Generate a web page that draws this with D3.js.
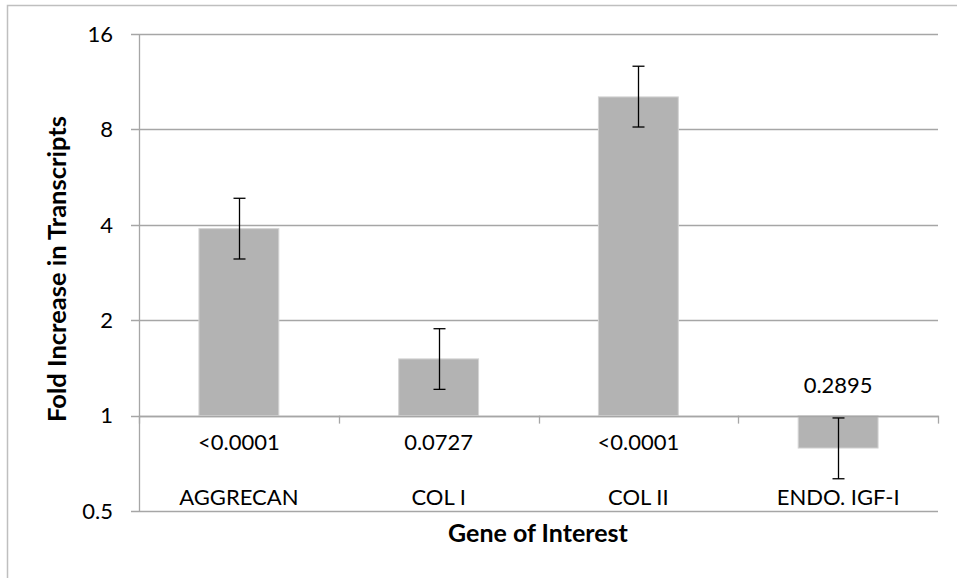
<!DOCTYPE html>
<html lang="en">
<head>
  <meta charset="UTF-8" />
  <title>Fold Increase in Transcripts</title>
  <script src="https://d3js.org/d3.v7.min.js"></script>
  <style>
    body { margin: 0; background: #fff; }
    svg { display: block; font-family: Lato, "Open Sans", sans-serif; }
  </style>
</head>
<body>
  <div id="chart"></div>
  <script>
    const genes = ["AGGRECAN", "COL I", "COL II", "ENDO. IGF-I"];
    const fold = [3.89, 1.51, 10.13, 0.79];
    const errLow = [3.12, 1.21, 8.14, 0.632];
    const errHigh = [4.85, 1.88, 12.66, 0.983];
    const pValues = ["<0.0001", "0.0727", "<0.0001", "0.2895"];
    const yTicks = [0.5, 1, 2, 4, 8, 16];

    const width = 957, height = 578;
    const margin = { top: 34, right: 19, bottom: 67, left: 139 };
    const innerW = width - margin.left - margin.right;
    const innerH = height - margin.top - margin.bottom;

    const svg = d3.select("#chart").append("svg")
      .attr("width", width)
      .attr("height", height);

    // outer chart frame (top and left edges visible)
    svg.append("path")
      .attr("d", `M7.5,${height} V5.5 H${width}`)
      .attr("fill", "none")
      .attr("stroke", "#bfbfbf")
      .attr("stroke-width", 1.5);

    const g = svg.append("g").attr("transform", `translate(${margin.left},${margin.top})`);

    const x = d3.scaleBand().domain(genes).range([0, innerW]).paddingInner(0.6).paddingOuter(0.3);
    const y = d3.scaleLog().base(2).domain([0.5, 16]).range([innerH, 0]);

    // gridlines
    g.append("g")
      .selectAll("line")
      .data(yTicks)
      .join("line")
      .attr("x1", -8)
      .attr("x2", innerW)
      .attr("y1", d => Math.round(y(d)) + 0.5)
      .attr("y2", d => Math.round(y(d)) + 0.5)
      .attr("stroke", "#a6a6a6")
      .attr("stroke-width", 1.3);

    // y axis line
    g.append("line")
      .attr("x1", 0.5).attr("x2", 0.5)
      .attr("y1", 0).attr("y2", innerH)
      .attr("stroke", "#a6a6a6")
      .attr("stroke-width", 1.3);

    // y tick labels
    g.append("g")
      .selectAll("text")
      .data(yTicks)
      .join("text")
      .attr("x", -26)
      .attr("y", d => y(d))
      .attr("dy", "0.35em")
      .attr("text-anchor", "end")
      .attr("font-size", 22)
      .attr("fill", "#000")
      .text(d => d);

    // bars: grow from 1 (category axis crosses at 1)
    const base = y(1);
    g.append("g")
      .selectAll("rect")
      .data(genes)
      .join("rect")
      .attr("x", d => x(d))
      .attr("width", x.bandwidth())
      .attr("y", (d, i) => Math.min(y(fold[i]), base))
      .attr("height", (d, i) => Math.abs(y(fold[i]) - base))
      .attr("fill", "#b3b3b3")
      .attr("stroke", "#d4d4d4")
      .attr("stroke-width", 1);

    // category axis at y=1 with tick marks at band boundaries
    g.append("line")
      .attr("x1", 0).attr("x2", innerW)
      .attr("y1", Math.round(base) + 0.5).attr("y2", Math.round(base) + 0.5)
      .attr("stroke", "#a6a6a6")
      .attr("stroke-width", 1.3);
    const step = x.step();
    g.append("g")
      .selectAll("line")
      .data(d3.range(genes.length + 1))
      .join("line")
      .attr("x1", i => Math.round(i * step) + 0.5)
      .attr("x2", i => Math.round(i * step) + 0.5)
      .attr("y1", base)
      .attr("y2", base + 8)
      .attr("stroke", "#a6a6a6")
      .attr("stroke-width", 1.3);

    // error bars
    const cx = d => x(d) + x.bandwidth() / 2;
    const eb = g.append("g").attr("stroke", "#000").attr("stroke-width", 1.3);
    genes.forEach((d, i) => {
      const c = Math.round(cx(d)) + 0.5;
      eb.append("line").attr("x1", c).attr("x2", c).attr("y1", y(errHigh[i])).attr("y2", y(errLow[i]));
      eb.append("line").attr("x1", c - 6).attr("x2", c + 6).attr("y1", y(errHigh[i])).attr("y2", y(errHigh[i]));
      eb.append("line").attr("x1", c - 6).attr("x2", c + 6).attr("y1", y(errLow[i])).attr("y2", y(errLow[i]));
    });

    // p-value labels
    g.append("g")
      .selectAll("text")
      .data(genes)
      .join("text")
      .attr("x", d => cx(d))
      .attr("y", (d, i) => fold[i] >= 1 ? base + 27 : y(fold[i]) - 63)
      .attr("dy", "0.35em")
      .attr("text-anchor", "middle")
      .attr("font-size", 22)
      .text((d, i) => pValues[i]);

    // category labels
    g.append("g")
      .selectAll("text")
      .data(genes)
      .join("text")
      .attr("x", d => cx(d))
      .attr("y", innerH - 14)
      .attr("dy", "0.35em")
      .attr("text-anchor", "middle")
      .attr("font-size", 22)
      .text(d => d);

    // axis titles
    svg.append("text")
      .attr("x", 538)
      .attr("y", 533)
      .attr("dy", "0.35em")
      .attr("text-anchor", "middle")
      .attr("font-size", 25)
      .attr("font-weight", "bold")
      .text("Gene of Interest");

    svg.append("text")
      .attr("transform", `translate(57,269) rotate(-90)`)
      .attr("dy", "0.35em")
      .attr("text-anchor", "middle")
      .attr("font-size", 25.5)
      .attr("font-weight", "bold")
      .text("Fold Increase in Transcripts");
  </script>
</body>
</html>
